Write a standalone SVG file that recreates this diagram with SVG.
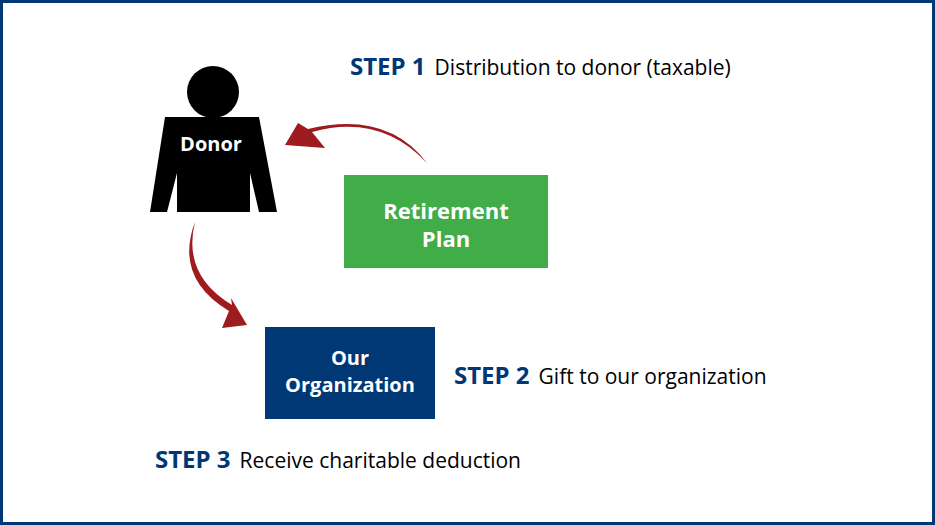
<svg xmlns="http://www.w3.org/2000/svg" width="935" height="525" viewBox="0 0 935 525">
<style>
.s{font-family:"Open Sans",sans-serif;font-weight:bold;fill:#003876;font-size:24px}
.d{font-family:"Open Sans",sans-serif;fill:#000;font-size:21px}
.w{font-family:"Open Sans",sans-serif;font-weight:bold;fill:#fff;text-anchor:middle}
.a{fill:#9e1b20}
</style>
<rect x="1.5" y="1.5" width="932" height="522" fill="#fff" stroke="#003876" stroke-width="3"/>
<g id="donor">
<circle cx="213" cy="92" r="26" fill="#000"/>
<polygon points="165,117 259,117 277,212 259,212 250,173 250,212 177,212 177,173 167,212 150,212" fill="#000"/>
<text class="w" x="211" y="151" font-size="20">Donor</text>
</g>
<g id="retirement">
<rect x="344" y="175" width="204" height="93" fill="#41ad49"/>
<text class="w" x="446" y="219" font-size="22">Retirement</text>
<text class="w" x="446" y="247" font-size="22">Plan</text>
</g>
<g id="org">
<rect x="265" y="327" width="170" height="92" fill="#003876"/>
<text class="w" x="350" y="365" font-size="20">Our</text>
<text class="w" x="350" y="392" font-size="20">Organization</text>
</g>
<g id="connectors">
<path class="a" d="M427,163 Q380,113 312,132 L325,148 L285,145 L298,123 L308,129 Q387,110 427,163 Z"/>
<path class="a" d="M195,222 Q182,275 232,305 L231,298 L247,325 L222,328 L229,311 Q174,278 195,222 Z"/>
</g>
<text x="350" y="75"><tspan class="s">STEP 1</tspan><tspan class="d" dx="9">Distribution to donor (taxable)</tspan></text>
<text x="454" y="384"><tspan class="s">STEP 2</tspan><tspan class="d" dx="9">Gift to our organization</tspan></text>
<text x="155" y="468"><tspan class="s">STEP 3</tspan><tspan class="d" dx="9">Receive charitable deduction</tspan></text>
</svg>
